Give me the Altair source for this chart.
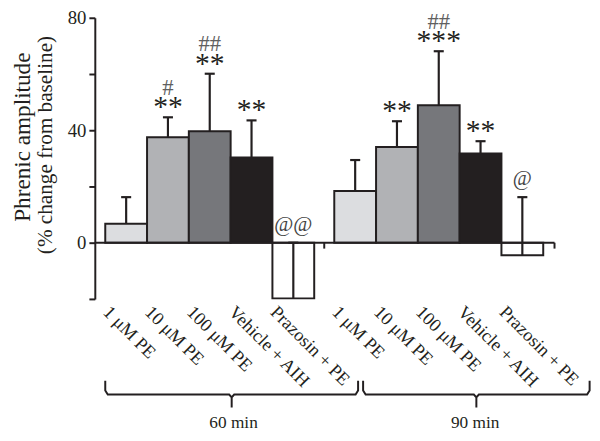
import altair as alt
import pandas as pd

# ---- data ----
treatments = ["1 μM PE", "10 μM PE", "100 μM PE", "Vehicle + AIH", "Prazosin + PE"]
groups = ["60 min", "90 min"]
mean_60 = [6.7, 37.5, 39.6, 30.3, -19.8]
sem_60 = [9.5, 7.1, 20.5, 13.2, 19.8]
mean_90 = [18.4, 34.0, 48.9, 31.7, -4.5]
sem_90 = [11.0, 9.2, 19.2, 4.4, 20.7]
stars_60 = ["", "**", "**", "**", ""]
stars_90 = ["", "**", "***", "**", ""]
hash_60 = ["", "#", "##", "", ""]
hash_90 = ["", "", "##", "", ""]
at_60 = ["", "", "", "", "@@"]
at_90 = ["", "", "", "", "@"]
fills = ["#dcdde0", "#b1b2b5", "#76777b", "#231f20", "#ffffff"]
y_ticks = [-20, 0, 20, 40, 60, 80]

INK = "#231f20"
SERIF = "Liberation Serif"

# ---- layout (bar-width units) ----
LEAD = 0.25
GROUP_STEP = 5.48
X_MAX = 11.0

rows = []
for g, (means, sems, stars, hashes, ats) in enumerate(
    [(mean_60, sem_60, stars_60, hash_60, at_60),
     (mean_90, sem_90, stars_90, hash_90, at_90)]):
    for i, t in enumerate(treatments):
        left = LEAD + g * GROUP_STEP + i
        rows.append(dict(
            group=groups[g], treatment=t, idx=str(i),
            left=left, right=left + 1, center=left + 0.5,
            cap_l=left + 0.38, cap_r=left + 0.62, lab_x=left + 0.18,
            mean=means[i], upper=means[i] + sems[i], zero=0.0,
            stars=stars[i], hashes=hashes[i], ats=ats[i],
        ))
df = pd.DataFrame(rows)

xs = alt.Scale(domain=[0, X_MAX], nice=False, zero=False)
ys = alt.Scale(domain=[-20, 80], nice=False, zero=False)
yaxis = alt.Axis(values=y_ticks,
                 labelExpr="datum.value % 40 == 0 ? datum.label : ''",
                 grid=False, tickSize=6, tickWidth=2, tickColor=INK,
                 domainColor=INK, domainWidth=2,
                 labelFont=SERIF, labelFontSize=19, labelColor=INK,
                 labelPadding=3, title=None)


def X(f):
    return alt.X(f, scale=xs, axis=None)


def Y(f):
    return alt.Y(f, scale=ys, axis=yaxis, title=None)


base = alt.Chart(df)

bars = base.mark_rect(stroke=INK, strokeWidth=2).encode(
    x=X("left:Q"), x2="right:Q", y=Y("mean:Q"), y2="zero:Q",
    fill=alt.Fill("idx:N", scale=alt.Scale(domain=["0", "1", "2", "3", "4"], range=fills), legend=None),
)
err = base.mark_rule(color=INK, strokeWidth=2.2).encode(
    x=X("center:Q"), y=Y("mean:Q"), y2="upper:Q")
caps = base.mark_rule(color=INK, strokeWidth=2.2).encode(
    x=X("cap_l:Q"), x2="cap_r:Q", y=Y("upper:Q"))

zl = pd.DataFrame({"x0": [0.0], "x1": [X_MAX], "y0": [0.0]})
zero_line = alt.Chart(zl).mark_rule(color=INK, strokeWidth=2).encode(
    x=X("x0:Q"), x2="x1:Q", y=Y("y0:Q"))
gt = pd.DataFrame({"t": [LEAD + 5 + (GROUP_STEP - 5) / 2, X_MAX], "y0": [0.0, 0.0], "y1": [-2.1, -2.1]})
gap_ticks = alt.Chart(gt).mark_rule(color=INK, strokeWidth=2).encode(
    x=X("t:Q"), y=Y("y0:Q"), y2="y1:Q")

stars = base.mark_text(font=SERIF, fontSize=30, color=INK, baseline="middle", dy=-10).encode(
    x=X("center:Q"), y=Y("upper:Q"), text="stars:N")
hashes = base.mark_text(font=SERIF, fontSize=23, color="#606060",
                        baseline="middle", dy=-30).encode(
    x=X("center:Q"), y=Y("upper:Q"), text="hashes:N")
ats = base.mark_text(font=SERIF, fontSize=21, color="#444444", baseline="middle", dy=-18).encode(
    x=X("center:Q"), y=Y("upper:Q"), text="ats:N")

xlabels = base.mark_text(font=SERIF, fontSize=18.5, color=INK, angle=45, align="left",
                         baseline="top").encode(
    x=X("lab_x:Q"), y=alt.value(289), text="treatment:N")

# brackets under each time group (curly-ish ends)
br_rows = []
spans = [(0.25, 6.30), (6.42, 11.84)]
for g, (a, b) in enumerate(spans):
    m = (a + b) / 2
    pts = [(a, -49.1), (a, -52.6), (a + 0.06, -54.0), (m - 0.06, -54.0), (m, -55.0),
           (m, -58.6), (m, -55.0), (m + 0.06, -54.0), (b - 0.06, -54.0), (b, -52.6), (b, -49.1)]
    for k, (px, py) in enumerate(pts):
        br_rows.append(dict(group=groups[g], k=k, bx=px, by=py))
br = pd.DataFrame(br_rows)
brackets = alt.Chart(br).mark_line(color=INK, strokeWidth=2).encode(
    x=X("bx:Q"), y=Y("by:Q"), detail="group:N", order="k:Q")

gl = pd.DataFrame({"group": groups, "gx": [3.32, 9.10], "gy": [-64.0, -64.0]})
group_labels = alt.Chart(gl).mark_text(font=SERIF, fontSize=17.5, color=INK, baseline="middle").encode(
    x=X("gx:Q"), y=Y("gy:Q"), text="group:N")

tt = pd.DataFrame({"t": ["Phrenic amplitude", "(% change from baseline)"]})
title1 = alt.Chart(tt.iloc[[0]]).mark_text(
    font=SERIF, fontSize=23.5, color=INK, angle=270, baseline="middle").encode(
    x=alt.value(-73), y=alt.value(121), text="t:N")
title2 = alt.Chart(tt.iloc[[1]]).mark_text(
    font=SERIF, fontSize=21.5, color=INK, angle=270, baseline="middle").encode(
    x=alt.value(-49), y=alt.value(129), text="t:N")

chart = alt.layer(
    bars, zero_line, gap_ticks, err, caps, stars, hashes, ats, xlabels, brackets,
    group_labels, title1, title2
).properties(
    width=466, height=285,
    autosize=alt.AutoSizeParams(type="none"),
    padding={"left": 88, "top": 7, "right": 38, "bottom": 133},
).configure_view(stroke=None)

chart.save("out.html", embed_options={"renderer": "svg", "actions": False})
